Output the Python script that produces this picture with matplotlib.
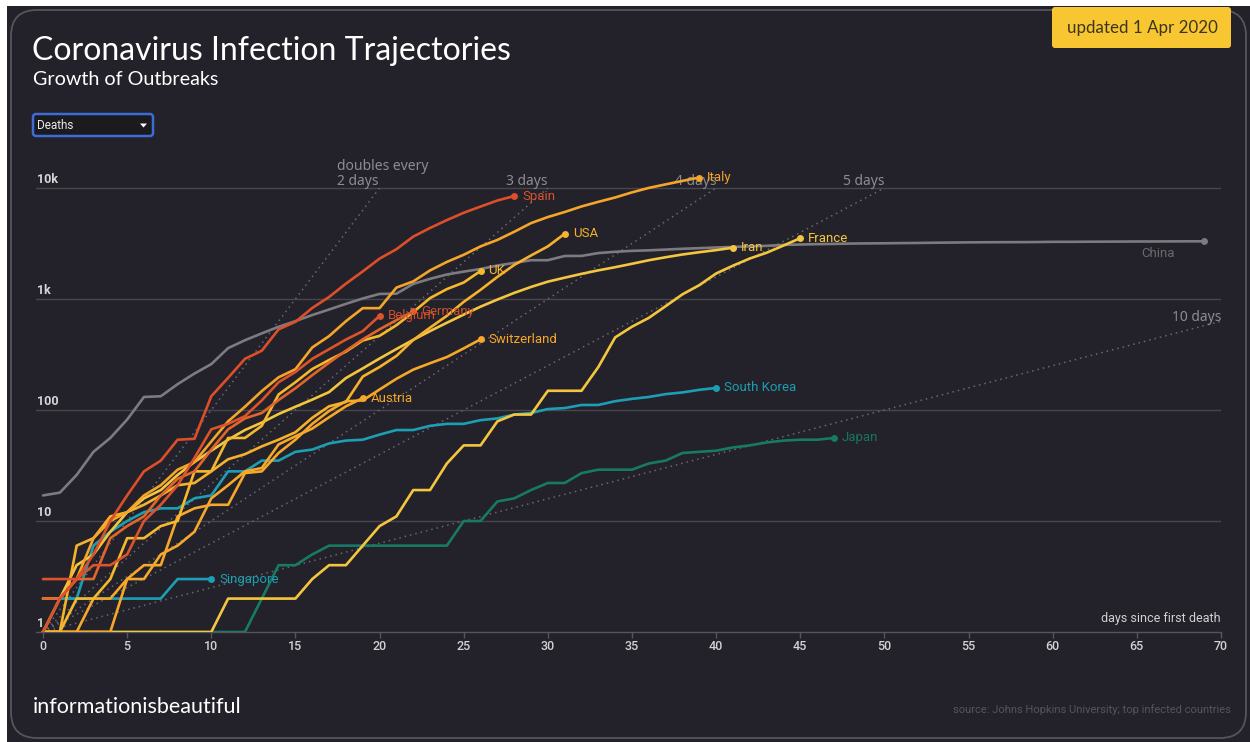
import matplotlib
matplotlib.use("Agg")
import matplotlib.pyplot as plt
from matplotlib.patches import FancyBboxPatch, Rectangle, Polygon
from matplotlib.transforms import Affine2D
from matplotlib.ticker import NullLocator

# ---------------- data ----------------
x_ticks = list(range(0, 71, 5))
y_ticks = [1, 10, 100, 1000, 10000]
y_tick_labels = ["1", "10", "100", "1k", "10k"]
doubling_days = [2, 3, 4, 5, 10]

china = [17, 18, 26, 42, 56, 82, 131, 133, 171, 213, 259, 361, 425, 490, 562, 632, 717, 804,
         904, 1011, 1111, 1116, 1368, 1520, 1662, 1765, 1863, 2002, 2114, 2236, 2236, 2441,
         2443, 2593, 2663, 2715, 2744, 2788, 2835, 2870, 2912, 2945, 2981, 3013, 3070, 3097,
         3119, 3136, 3158, 3169, 3176, 3189, 3199, 3213, 3226, 3237, 3245, 3249, 3253, 3259,
         3274, 3274, 3281, 3285, 3291, 3296, 3299, 3304, 3308, 3309]
italy = [1, 2, 3, 7, 10, 12, 17, 21, 29, 34, 52, 79, 107, 148, 197, 233, 366, 463, 631, 827,
         827, 1266, 1441, 1809, 2158, 2503, 2978, 3405, 4032, 4825, 5476, 6077, 6820, 7503,
         8215, 9134, 10023, 10779, 11591, 12428]
spain = [1, 2, 3, 5, 10, 17, 28, 35, 54, 55, 133, 195, 289, 342, 533, 623, 830, 1043, 1375,
         1772, 2311, 2808, 3647, 4365, 5138, 5982, 6803, 7716, 8464]
usa = [1, 1, 6, 7, 11, 12, 14, 17, 21, 22, 28, 36, 40, 47, 54, 63, 85, 108, 118, 200, 244,
       307, 427, 552, 706, 942, 1209, 1581, 2026, 2467, 2978, 3873]
iran = [2, 2, 4, 5, 8, 12, 16, 19, 26, 34, 43, 54, 66, 77, 92, 107, 124, 145, 194, 237, 291,
        354, 429, 514, 611, 724, 853, 988, 1135, 1284, 1433, 1556, 1685, 1812, 1934, 2077,
        2234, 2378, 2517, 2640, 2757, 2898]
france = [1, 1, 1, 1, 1, 1, 1, 1, 1, 1, 1, 2, 2, 2, 2, 2, 3, 4, 4, 6, 9, 11, 19, 19, 33, 48,
          48, 79, 91, 91, 149, 149, 149, 244, 451, 563, 676, 862, 1102, 1333, 1698, 1997,
          2317, 2611, 3030, 3532]
uk = [1, 1, 2, 2, 3, 7, 7, 9, 10, 28, 28, 56, 56, 72, 138, 178, 234, 282, 336, 423, 466, 580,
      761, 1019, 1228, 1408, 1789]
germany = [2, 2, 3, 3, 7, 9, 11, 17, 24, 28, 44, 67, 84, 94, 123, 157, 206, 267, 342, 433,
           533, 645, 775]
belgium = [3, 3, 3, 4, 4, 5, 10, 14, 21, 37, 67, 75, 88, 122, 178, 220, 289, 353, 431, 513, 705]
switzerland = [1, 1, 1, 2, 2, 3, 4, 4, 11, 13, 14, 14, 27, 28, 41, 54, 75, 98, 120, 122, 153,
               191, 231, 264, 300, 359, 433]
austria = [1, 1, 1, 1, 1, 3, 3, 5, 6, 8, 16, 21, 28, 30, 49, 58, 68, 86, 108, 128]
south_korea = [1, 2, 2, 6, 8, 10, 12, 13, 13, 16, 17, 28, 28, 35, 35, 42, 44, 50, 53, 54, 60,
               66, 66, 72, 75, 75, 81, 84, 91, 94, 102, 104, 111, 111, 120, 126, 131, 139,
               144, 152, 158]
japan = [1, 1, 1, 1, 1, 1, 1, 1, 1, 1, 1, 1, 1, 2, 4, 4, 5, 6, 6, 6, 6, 6, 6, 6, 6, 10, 10, 15,
         16, 19, 22, 22, 27, 29, 29, 29, 33, 35, 41, 42, 43, 46, 48, 51, 53, 54, 54, 56]
singapore = [2, 2, 2, 2, 2, 2, 2, 2, 3, 3, 3]

series = [
    ("China", china), ("Japan", japan), ("South Korea", south_korea), ("Singapore", singapore),
    ("France", france), ("Iran", iran), ("Austria", austria), ("Switzerland", switzerland),
    ("UK", uk), ("USA", usa), ("Italy", italy), ("Germany", germany), ("Belgium", belgium),
    ("Spain", spain),
]

# ---------------- styles ----------------
BG = "#232129"
colors = {
    "China": "#7c7b80", "Japan": "#177a64", "South Korea": "#1d9fb3", "Singapore": "#1d9fb3",
    "France": "#f4c63f", "Iran": "#f4c63f", "Austria": "#f5a82a", "Switzerland": "#f5a82a",
    "UK": "#f6b92e", "USA": "#f6b22c", "Italy": "#f5a529", "Germany": "#e2652c",
    "Belgium": "#dc532c", "Spain": "#dd4f29",
}
label_colors = dict(colors)
label_colors.update({"China": "#6b6a70", "Germany": "#c9502e", "Belgium": "#cf4d2c",
                     "Spain": "#d8532e", "Japan": "#157561"})
# label offsets in pixels (dx, dy) relative to the end point
label_off = {k: (8, 0, "left") for k in colors}
label_off["China"] = (-29, 12, "right")

W, H = 1250, 742
fig = plt.figure(figsize=(W / 100, H / 100), dpi=100)
fig.patch.set_facecolor("white")
pt = Affine2D().scale(1 / W, -1 / H).translate(0, 1) + fig.transFigure

fig.patches.append(Rectangle((7, 6), W - 7, H - 6, transform=pt, facecolor=BG,
                             edgecolor="none", zorder=0))
fig.patches.append(FancyBboxPatch((11, 10), 1235, 728, boxstyle="round,pad=0,rounding_size=26",
                                  transform=pt, fill=False, edgecolor="#57555c", lw=1.3, zorder=1))

# ---------------- axes ----------------
px_per_day = (1221 - 43) / 70.0
x0 = -(43 - 36) / px_per_day
ax = fig.add_axes([36 / W, (H - 632) / H, (1221 - 36) / W, 111 * 4.4 / H])
ax.set_zorder(5)
ax.set_yscale("log")
ax.set_xlim(x0, 70)
ax.set_ylim(1, 10 ** 4.4)
ax.patch.set_alpha(0)
for s in ["top", "right", "left"]:
    ax.spines[s].set_visible(False)
ax.spines["bottom"].set_color("#57555c")
ax.spines["bottom"].set_linewidth(1)
ax.yaxis.set_major_locator(NullLocator())
ax.yaxis.set_minor_locator(NullLocator())
ax.set_xticks(x_ticks)
ax.set_xticklabels([str(t) for t in x_ticks], fontfamily="Roboto", fontweight="medium")
ax.tick_params(axis="x", colors="#57555c", labelcolor="#d2d2d2", length=4, width=1, pad=2,
               labelsize=9)

for yt, lab in zip(y_ticks, y_tick_labels):
    if yt > 1:
        ax.axhline(yt, color="#48464d", lw=1, zorder=1)
    ax.annotate(lab, xy=(0, yt), xycoords=("axes fraction", "data"), xytext=(1, 1.5),
                textcoords="offset points", ha="left", va="bottom", color="#d6d6d6",
                fontsize=9, fontweight="bold", fontfamily="Roboto")

# doubling guide lines
for d in doubling_days:
    xe = min(10 * d, 70)
    ye = 10 ** (0.4 * xe / d)
    ax.plot([0, xe], [1, ye], color="#69676f", lw=1.1, ls=(0, (1, 2.6)), zorder=1.5)
    kw = dict(xy=(xe, ye), textcoords="offset points", va="bottom", color="#8e8c93",
              fontsize=10, fontfamily="Noto Sans", zorder=1.6)
    if d == 2:
        ax.annotate("doubles every\n2 days", xytext=(-31, -0.5), ha="left", linespacing=0.95,
                    **kw)
    elif d == 10:
        ax.annotate(f"{d} days", xytext=(0, -3), ha="right", **kw)
    else:
        ax.annotate(f"{d} days", xytext=(0, -0.5), ha="right", **kw)

# country lines
for name, vals in series:
    xs = list(range(len(vals)))
    c = colors[name]
    ax.plot(xs, vals, color=c, lw=1.9, solid_joinstyle="round", solid_capstyle="round",
            zorder=3)
    ax.plot(xs[-1], vals[-1], "o", ms=5, color=c, mec="none", zorder=4)
    dx, dy, ha = label_off[name]
    ax.annotate(name, xy=(xs[-1], vals[-1]), xytext=(dx * 0.72, -dy * 0.72),
                textcoords="offset points", ha=ha, va="center", color=label_colors[name],
                fontsize=9.5, fontfamily="Roboto", zorder=5)

ax.annotate("days since first death", xy=(1, 0), xycoords="axes fraction", xytext=(0, 5),
            textcoords="offset points", ha="right", va="bottom", color="#d2d2d2", fontsize=9,
            fontfamily="Roboto")

# ---------------- titles & chrome ----------------
def ftext(x, y, s, **kw):
    fig.text(x / W, 1 - y / H, s, **kw)

ftext(32, 60, "Coronavirus Infection Trajectories", fontsize=23, color="white",
      fontfamily="Lato", va="baseline")
ftext(33, 85, "Growth of Outbreaks", fontsize=14.2, color="white", fontfamily="Lato",
      va="baseline")
ftext(33, 713, "informationisbeautiful", fontsize=15.5, color="white", fontfamily="Lato",
      va="baseline")
ftext(1231, 710, "source: Johns Hopkins University; top infected countries", fontsize=8,
      color="#57555c", fontfamily="Roboto", ha="right", va="center")

# dropdown
fig.patches.append(FancyBboxPatch((33, 114), 120, 22, boxstyle="round,pad=0,rounding_size=3",
                                  transform=pt, facecolor="#1b1a1f", edgecolor="#3d6cd6",
                                  lw=1.8, zorder=2))
ftext(37, 125.5, "Deaths", fontsize=8.5, color="#eaeaea", fontfamily="Roboto", va="center",
      zorder=3)
fig.patches.append(Polygon([(140, 123.5), (147, 123.5), (143.5, 127.5)], closed=True,
                           transform=pt, facecolor="white", edgecolor="none", zorder=3))

# updated badge
fig.patches.append(FancyBboxPatch((1052, 7), 179, 41, boxstyle="round,pad=0,rounding_size=3",
                                  transform=pt, facecolor="#f8c631", edgecolor="none", zorder=2))
ftext(1142, 28, "updated 1 Apr 2020", fontsize=12.2, color="#3c3421", fontfamily="Lato",
      ha="center", va="center", zorder=3)

fig.savefig("out.png", dpi=100, facecolor=fig.get_facecolor())
